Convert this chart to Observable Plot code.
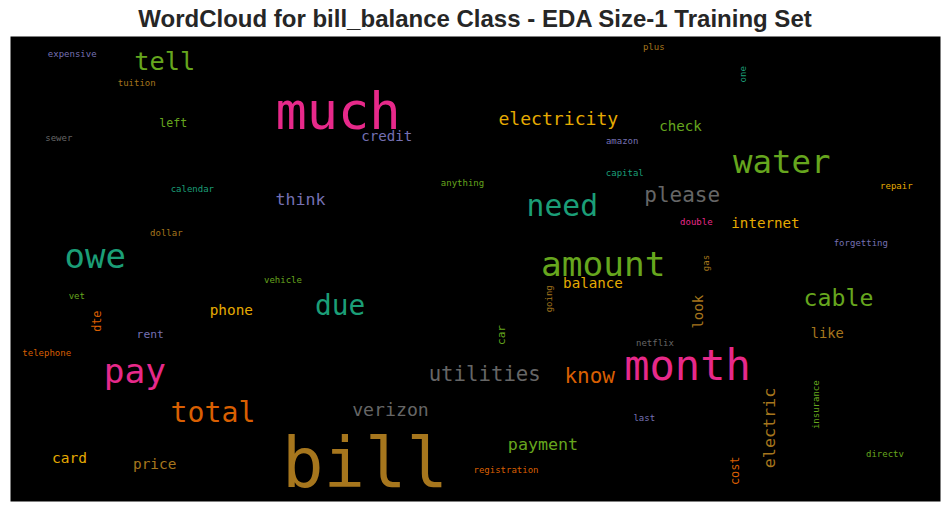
<!DOCTYPE html>
<html>
<head>
<meta charset="utf-8">
<script src="https://cdn.jsdelivr.net/npm/d3@7"></script>
<script src="https://cdn.jsdelivr.net/npm/@observablehq/plot@0.6"></script>
<style>
  body { margin: 0; background: #ffffff; }
  #title { width: 950px; height: 36px; line-height: 36px; padding-top: 1px; box-sizing: border-box;
    text-align: center; font-family: "Liberation Sans", Arial, sans-serif; font-weight: bold;
    font-size: 24px; color: #262626; white-space: nowrap; overflow: hidden; }
  #chart svg { display: block; }
</style>
</head>
<body>
<div id="title">WordCloud for bill_balance Class - EDA Size-1 Training Set</div>
<div id="chart"></div>
<script>
// Word cloud contents (cloud canvas is 930 x 465 units)
const words = ["much","bill","month","amount","owe","pay","water","need","total","due",
  "tell","cable","please","utilities","know","verizon","electricity","electric","payment","think",
  "credit","check","internet","phone","balance","card","price","like","look","cost",
  "left","rent","dte","car","expensive","tuition","sewer","calendar","amazon","anything",
  "capital","plus","one","repair","dollar","vehicle","vet","telephone","double","forgetting",
  "gas","netflix","going","registration","last","insurance","directv"];
// relative weight of each word (rendered as font size in px)
const weights = [52,69,42,34.5,34,34.5,32.4,29.7,28.2,27.8,
  25.3,23.2,21,20.7,21,18.2,18.1,16.7,16.7,16.6,
  14.1,14.2,14.2,14.4,14.2,14.5,14.4,13.8,14,11.9,
  11.6,11.3,11.8,11.2,9,9,9,9,9,9,
  9,9,9,9,9,9,9,9,9,9,
  9,9,9,9,9,9,9];
// placement in the cloud canvas
const cx = [327.5,354.5,677,592.7,84.7,124.3,771.3,551.8,202.5,329.7,
  154.2,828,671.7,474.2,579.2,380,547.8,764.7,532.5,290,
  376.3,670,755,220.8,582.5,59,144.2,816.8,692,728,
  162.7,139.7,90.7,494,61.7,126.2,48.3,181.8,611.7,452,
  614.3,643.3,735.7,885.8,155.8,272.5,66.3,36.2,685.8,850.3,
  698.7,644.5,541,495.5,633.8,808,874.5];
const cy = [92.3,450.7,343.3,239,231.3,346.7,136.7,179,385.7,278,
  33.3,269,165.7,344,346.7,379,88,391.5,413.3,168,
  104,94.7,191.7,278,251.7,426.7,432.3,301.3,275.2,434.3,
  90.7,301.3,284.7,298.5,20.7,49,104.7,155.7,107.3,149,
  139.7,13.3,37.8,152.7,199.7,246.3,262.3,319,188.3,209,
  226.5,309,262.3,436.3,384,368.2,420.7];
// words laid out vertically (reading bottom to top)
const vertical = ["electric","look","cost","dte","car","one","gas","going","insurance"];
// colour group (index into Dark2)
// 0 teal, 1 orange, 2 purple, 3 pink, 4 green, 5 gold, 6 brown, 7 gray
const colorGroup = [3,6,3,4,0,3,4,0,1,0,
  4,4,7,7,1,7,5,6,4,2,
  2,4,5,5,5,5,6,6,6,1,
  4,2,1,4,2,6,7,0,2,4,
  0,6,0,5,6,4,4,1,3,2,
  6,7,6,1,2,4,4];

const data = words.map((w, i) => ({
  word: w, weight: weights[i], x: cx[i], y: cy[i],
  rot: vertical.includes(w) ? -90 : 0, group: colorGroup[i]
}));

const chart = Plot.plot({
  width: 950,
  height: 475,
  marginLeft: 10, marginRight: 10, marginTop: 0, marginBottom: 10,
  x: {domain: [0, 930], axis: null},
  y: {domain: [0, 465], reverse: true, axis: null},
  color: {type: "ordinal", domain: d3.range(8), range: d3.schemeDark2},
  style: {background: "white", overflow: "visible"},
  marks: [
    Plot.frame({fill: "black", stroke: "none"}),
    Plot.text(data, {
      x: "x", y: "y", text: "word", fill: "group",
      fontSize: "weight", rotate: "rot",
      textAnchor: "middle", lineAnchor: "bottom",
      fontFamily: "DejaVu Sans Mono"
    })
  ]
});
document.getElementById("chart").appendChild(chart);
</script>
</body>
</html>
